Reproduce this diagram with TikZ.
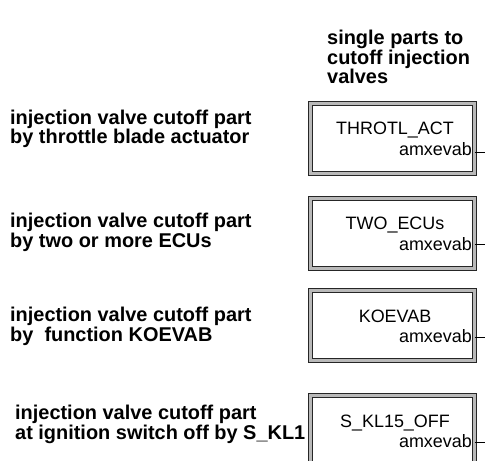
\documentclass[tikz,border=0pt]{standalone}
\usepackage{fontspec}
\setmainfont{Liberation Sans}
\begin{document}
\begin{tikzpicture}[x=1bp,y=-1bp,
  lbl/.style={anchor=base west, inner sep=0pt, align=left, font=\fontsize{20}{17}\selectfont\bfseries},
  blk/.style={draw=black!85, line width=0.9bp, double=gray!55, double distance=2.4bp, fill=white,
    minimum width=164bp, minimum height=70bp, anchor=north west, inner sep=0pt},
  ttl/.style={anchor=base, inner sep=0pt, font=\fontsize{18}{20}\selectfont},
  outl/.style={anchor=base east, inner sep=0pt, font=\fontsize{18}{20}\selectfont},
  conn/.style={draw=black, line width=0.8bp}]
\clip (0,0) rectangle (485,461);
\useasboundingbox (0,0) rectangle (485,461);

\node[lbl] (hdr) at (327,84) {single parts to\\cutoff injection\\valves};

\node[lbl] (l1) at (10,144) {injection valve cutoff part\\by throttle blade actuator};
\node[lbl] (l2) at (10,247) {injection valve cutoff part\\by two or more ECUs};
\node[lbl] (l3) at (10,341) {injection valve cutoff part\\by\ \ function KOEVAB};
\node[lbl] (l4) at (15,439) {injection valve cutoff part\\at ignition switch off by S\_KL1};

% boxes
\node[blk] (b1) at (310,103) {};
\node[blk] (b2) at (310,198) {};
\node[blk] (b3) at (310,290) {};
\node[blk] (b4) at (310,395) {};

\node[ttl] (t1) at (395,135) {THROTL\_ACT};
\node[ttl] (t2) at (395,230) {TWO\_ECUs};
\node[ttl] (t3) at (395,322) {KOEVAB};
\node[ttl] (t4) at (395,427) {S\_KL15\_OFF};

\node[outl] (o1) at (472,156) {amxevab};
\node[outl] (o2) at (472,250) {amxevab};
\node[outl] (o3) at (472,342) {amxevab};
\node[outl] (o4) at (472,447) {amxevab};

\coordinate (e1) at (485,152);
\coordinate (e2) at (485,244);
\coordinate (e3) at (485,337);
\coordinate (e4) at (485,442);
\draw[conn] (b1.east |- e1) -- (e1);
\draw[conn] (b2.east |- e2) -- (e2);
\draw[conn] (b3.east |- e3) -- (e3);
\draw[conn] (b4.east |- e4) -- (e4);
\end{tikzpicture}
\end{document}
